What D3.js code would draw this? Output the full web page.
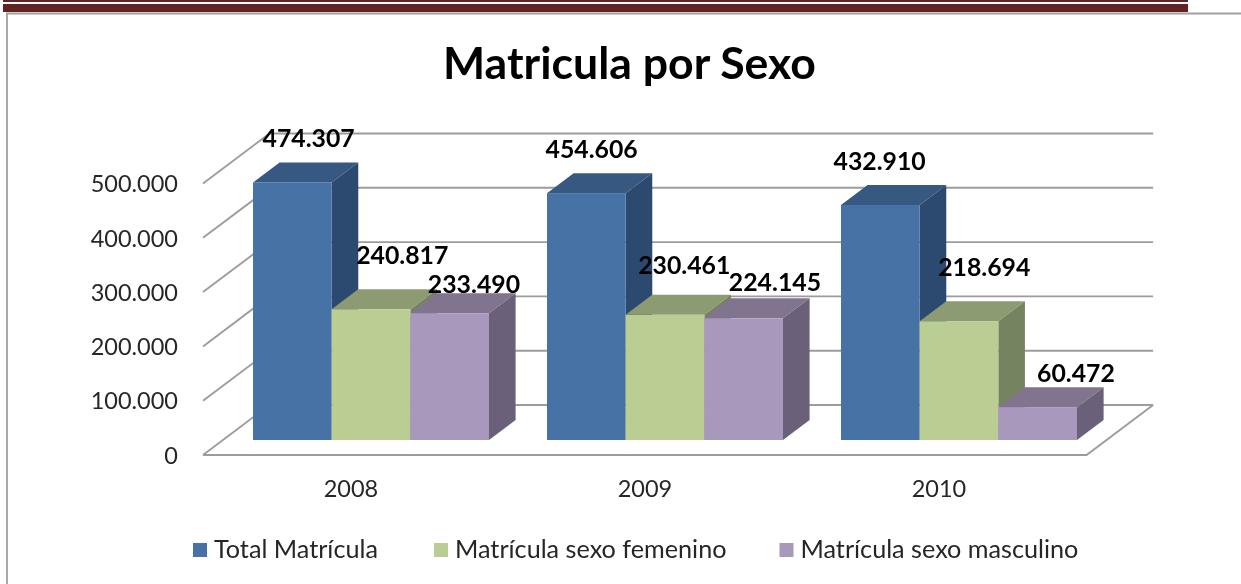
<!DOCTYPE html>
<html><head><meta charset="utf-8">
<script src="https://cdn.jsdelivr.net/npm/d3@7"></script>
<style>html,body{margin:0;padding:0;background:#fff}svg{display:block;filter:blur(0.45px)}text{font-family:Lato,"Open Sans",sans-serif}</style>
</head><body><svg id="c" width="1241" height="584"></svg>
<script>
const years = ["2008","2009","2010"];
const seriesNames = ["Total Matrícula","Matrícula sexo femenino","Matrícula sexo masculino"];
const totalValues = [474307,454606,432910];
const femaleValues = [240817,230461,218694];
const maleValues = [233490,224145,60472];
const yTicks = [0,100000,200000,300000,400000,500000];
const title = "Matricula por Sexo";
const frontColors = ["#4672A6","#BACD92","#A898BC"];
const topColors = ["#375881","#8C9B71","#80748E"];
const sideColors = ["#2C4A70","#758460","#6B6079"];
// hand-placed label nudges as in the source chart [dx,dy]
const labelNudges = [[[3,-15],[-8,-15],[-14,-15]],[[18,-25],[6,-21],[12,-25]],[[11,0],[18,-7],[25,-5]]];
const allValues = [totalValues,femaleValues,maleValues];

const svg = d3.select("#c");
const fmt = d3.formatLocale({decimal:",",thousands:".",grouping:[3],currency:["",""]}).format(",d");

// header rules and frame
const frame = svg.append("g");
frame.append("rect").attr("x",3).attr("y",0).attr("width",1185).attr("height",2).attr("fill","#622423");
frame.append("rect").attr("x",3).attr("y",4).attr("width",1185).attr("height",8).attr("fill","#622423");
frame.append("line").attr("x1",6).attr("x2",1241).attr("y1",13.5).attr("y2",13.5).attr("stroke","#a0a0a0").attr("stroke-width",1.8);
frame.append("line").attr("x1",7).attr("x2",7).attr("y1",13).attr("y2",584).attr("stroke","#a0a0a0").attr("stroke-width",1.8);

svg.append("text").attr("x",629.5).attr("y",79).attr("text-anchor","middle")
  .attr("font-size",44.6).attr("font-weight",700).attr("fill","#000").text(title);

// projection: floor front line at y0, wall at depth (wallDx,wallDy)
const y0 = 455, left = 203, right = 1086.6, wallDx = 66.5, wallDy = 50;
const y = d3.scaleLinear().domain([0,500000]).range([y0, y0-271.5]);
const yHeight = v => y0 - y(v);
const xGroup = d3.scaleBand().domain(years).range([left, left+294*3]).paddingInner(0).paddingOuter(0);
const xSeries = d3.scaleBand().domain(d3.range(3)).range([0,236]);
const barOffset = 50;          // first bar inset from the group's left
const barDepth = 0.3;          // bar front at 30% of floor depth
const barSpan = 0.4;           // bar occupies 40% of depth

// walls
const grid = svg.append("g").attr("fill","none").attr("stroke","#9c9c9c").attr("stroke-width",1.9);
yTicks.forEach(t=>{
  grid.append("line").attr("x1",left+wallDx).attr("x2",right+wallDx).attr("y1",y(t)-wallDy).attr("y2",y(t)-wallDy);
  grid.append("line").attr("x1",left).attr("x2",left+wallDx).attr("y1",y(t)).attr("y2",y(t)-wallDy);
});
grid.append("path").attr("d",d3.line()([[left,y0],[right,y0],[right+wallDx,y0-wallDy]]));

// y axis
const yAxis = d3.axisLeft(y).tickValues(yTicks).tickFormat(fmt).tickSize(0).tickPadding(0);
const gy = svg.append("g").attr("transform","translate(178,0)").call(yAxis);
gy.select(".domain").remove();
gy.selectAll("text").attr("font-size",23.5).attr("fill","#262626").attr("dy","0.35em")
  .style("font-family","Lato");

// x axis
const xAxis = d3.axisBottom(xGroup).tickSize(0).tickPadding(0);
const gx = svg.append("g").attr("transform","translate(0,497)").call(xAxis);
gx.select(".domain").remove();
gx.selectAll(".tick").attr("transform",d=>`translate(${xGroup(d)+148},0)`);
gx.selectAll("text").attr("font-size",23.5).attr("fill","#262626").attr("dy",0).attr("y",0)
  .style("font-family","Lato");

// bars
const dX = wallDx*barSpan, dY = wallDy*barSpan;
const baseY = wallDy*barDepth;
const bars = svg.append("g");
const labels = svg.append("g");
const poly = d3.line();
years.forEach((yr,i)=>{
  allValues.forEach((vals,s)=>{
    const v = vals[i];
    const xL = xGroup(yr)+barOffset+xSeries(s), w = xSeries.bandwidth();
    const yB = y0-baseY, yT = yB-yHeight(v);
    const g = bars.append("g");
    g.append("path").attr("d",poly([[xL,yT],[xL+w,yT],[xL+w+dX,yT-dY],[xL+dX,yT-dY]])+"Z").attr("fill",topColors[s]);
    g.append("path").attr("d",poly([[xL+w,yB],[xL+w+dX,yB-dY],[xL+w+dX,yT-dY],[xL+w,yT]])+"Z").attr("fill",sideColors[s]);
    g.append("rect").attr("x",xL).attr("y",yT).attr("width",w).attr("height",yB-yT).attr("fill",frontColors[s]);
    const n = labelNudges[s][i];
    labels.append("text").attr("x",xL+w/2+dX/2+n[0]).attr("y",yT-dY+n[1]).attr("text-anchor","middle")
      .attr("font-size",24.8).attr("font-weight",700).attr("fill","#000").text(fmt(v));
  });
});

// legend
const legendX = d3.scaleOrdinal().domain(seriesNames).range([193,434,779.5]);
const leg = svg.append("g");
seriesNames.forEach((n,i)=>{
  leg.append("rect").attr("x",legendX(n)).attr("y",543).attr("width",14).attr("height",14).attr("fill",frontColors[i]);
  leg.append("text").attr("x",legendX(n)+21).attr("y",558).attr("font-size",25.2).attr("fill","#262626").text(n);
});
</script></body></html>
